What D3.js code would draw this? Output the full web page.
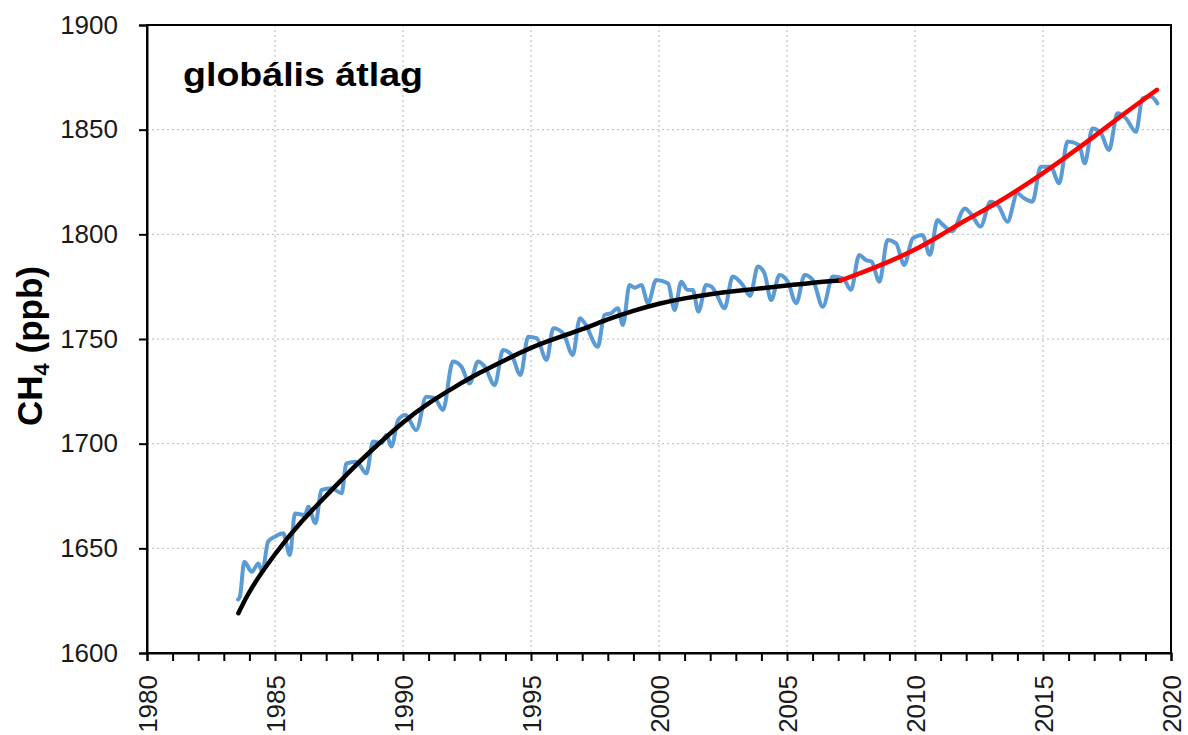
<!DOCTYPE html>
<html>
<head>
<meta charset="utf-8">
<script src="https://cdn.jsdelivr.net/npm/d3@7"></script>
<style>
  body { margin: 0; background: #fff; }
  svg { display: block; }
  .tick text { font-family: "Liberation Sans", Arial, sans-serif; }
</style>
</head>
<body>
<div id="chart"></div>
<script>
// monthly-ish global CH4 : [year, ppb]
var blueYears = [1983.56,1983.63,1983.80,1984.09,1984.35,1984.50,1984.73,1985.0,1985.32,1985.58,1985.78,1986.17,1986.30,1986.58,1986.82,1987.21,1987.60,1987.79,1988.18,1988.57,1988.83,1989.16,1989.35,1989.55,1989.81,1990.10,1990.52,1990.91,1991.24,1991.56,1991.95,1992.28,1992.60,1992.93,1993.19,1993.58,1993.91,1994.24,1994.59,1994.89,1995.22,1995.61,1995.87,1996.26,1996.63,1996.91,1997.10,1997.61,1997.87,1998.13,1998.39,1998.59,1998.85,1999.05,1999.31,1999.57,1999.89,2000.35,2000.61,2000.87,2001.10,2001.32,2001.54,2001.84,2002.05,2002.23,2002.56,2002.88,2003.27,2003.56,2003.86,2004.12,2004.38,2004.71,2005.03,2005.36,2005.69,2006.01,2006.40,2006.79,2007.19,2007.50,2007.82,2008.09,2008.30,2008.61,2008.93,2009.26,2009.58,2009.91,2010.29,2010.58,2010.88,2011.05,2011.45,2011.95,2012.22,2012.56,2012.95,2013.28,2013.61,2014.0,2014.26,2014.59,2014.91,2015.30,2015.63,2015.96,2016.41,2016.63,2016.93,2017.26,2017.58,2017.91,2018.24,2018.63,2018.89,2019.21,2019.47];
var blueVals = [1625.6,1627,1643.6,1638.8,1642.8,1638.8,1653.2,1655.6,1657.2,1646.8,1666.7,1665.9,1669.9,1662.0,1677.9,1678.7,1676.3,1690.6,1691.4,1685.8,1701.0,1700.2,1704.1,1698.6,1711.3,1713.7,1706.5,1722.4,1721.7,1716.1,1739.2,1736.8,1728.8,1739.2,1736.8,1728.0,1744.8,1742.4,1732.8,1751.1,1750.4,1740.0,1755.1,1752.7,1742.4,1759.9,1757.5,1746.3,1761.5,1762.3,1764.7,1756.7,1775.8,1774.5,1775.8,1767.1,1778.2,1776.6,1763.9,1777.4,1773.5,1773.4,1763.1,1775.8,1775,1771.8,1764.7,1779.8,1775.8,1770.6,1784.6,1781.4,1768.6,1780.6,1777.4,1767.1,1780.6,1778.2,1765.4,1779.8,1779.0,1773.5,1790.1,1787.7,1787,1777.4,1797.3,1795.7,1785.4,1798.1,1799.7,1790.1,1806.9,1805,1801.5,1812.4,1809.2,1803.7,1815.6,1813.2,1806.0,1819.6,1817.2,1815.6,1832.3,1832.3,1824.4,1844.3,1842.7,1833.9,1850.6,1848.3,1840.3,1857.8,1855.4,1849.0,1865.0,1865.8,1862.6];

// trend before 2007 (black)
var trendYears = [1983.57,1984,1985,1986,1987,1988,1989,1990,1991,1992,1993,1994,1995,1996,1997,1998,1999,2000,2001,2002,2003,2004,2005,2006,2007.1];
var trendVals = [1619,1630,1647.6,1662.7,1675,1688,1699.4,1710.5,1719.5,1727,1734,1740,1746,1750.5,1754.5,1759.5,1763.5,1767,1769.5,1771.5,1773,1774.2,1775.5,1777,1778];

// trend after 2007 (red)
var trend2Years = [2007.1,2008,2009,2010,2011,2012,2013,2014,2015,2016,2017,2018,2019,2019.45];
var trend2Vals = [1778,1782,1787,1792.5,1799.5,1807,1813.5,1821,1829.2,1837.8,1846.7,1856.2,1865,1869];

var xTicks = [1980,1985,1990,1995,2000,2005,2010,2015,2020];
var yTicks = [1600,1650,1700,1750,1800,1850,1900];

var W = 1188, H = 735;
var margin = {left: 147, top: 25, right: 1171, bottom: 653};

var svg = d3.select("#chart").append("svg")
    .attr("width", W)
    .attr("height", H);

var x = d3.scaleLinear().domain([1980, 2020]).range([margin.left, margin.right]);
var y = d3.scaleLinear().domain([1600, 1900]).range([margin.bottom, margin.top]);

// grid
for (var i = 1; i < xTicks.length - 1; i++) {
    svg.append("line")
        .attr("x1", x(xTicks[i])).attr("x2", x(xTicks[i]))
        .attr("y1", margin.top).attr("y2", margin.bottom)
        .attr("stroke", "#b8b8b8")
        .attr("stroke-dasharray", "2,3");
}
for (var j = 1; j < yTicks.length - 1; j++) {
    svg.append("line")
        .attr("x1", margin.left).attr("x2", margin.right)
        .attr("y1", y(yTicks[j])).attr("y2", y(yTicks[j]))
        .attr("stroke", "#b8b8b8")
        .attr("stroke-dasharray", "2,3");
}

// frame
svg.append("rect")
    .attr("x", margin.left).attr("y", margin.top)
    .attr("width", margin.right - margin.left)
    .attr("height", margin.bottom - margin.top)
    .attr("fill", "none")
    .attr("stroke", "#000")
    .attr("stroke-width", 2);

// axes
var xAxis = d3.axisBottom(x)
    .tickValues(d3.range(1980, 2021, 1))
    .tickSize(8)
    .tickFormat(function(d) { return d % 5 == 0 ? d : ""; });

var gx = svg.append("g")
    .attr("transform", "translate(0," + margin.bottom + ")")
    .call(xAxis);
gx.select(".domain").attr("stroke-width", 2);
gx.selectAll(".tick line").attr("stroke-width", 2);
gx.selectAll(".tick text")
    .attr("font-size", 26)
    .attr("fill", "#1a1a1a")
    .attr("text-anchor", "end")
    .attr("transform", "rotate(-90)")
    .attr("x", -22)
    .attr("y", 0)
    .attr("dy", "0.36em");

var yAxis = d3.axisLeft(y)
    .tickValues(yTicks)
    .tickSize(8)
    .tickFormat(d3.format("d"));

var gy = svg.append("g")
    .attr("transform", "translate(" + margin.left + ",0)")
    .call(yAxis);
gy.select(".domain").attr("stroke-width", 2);
gy.selectAll(".tick line").attr("stroke-width", 2);
gy.selectAll(".tick text")
    .attr("font-size", 26)
    .attr("fill", "#1a1a1a")
    .attr("x", -29);

// lines
var blue = blueYears.map(function(d, k) { return [d, blueVals[k]]; });
var black = trendYears.map(function(d, k) { return [d, trendVals[k]]; });
var red = trend2Years.map(function(d, k) { return [d, trend2Vals[k]]; });

var line = d3.line()
    .x(function(d) { return x(d[0]); })
    .y(function(d) { return y(d[1]); })
    .curve(d3.curveMonotoneX);

svg.append("path")
    .datum(blue)
    .attr("d", line)
    .attr("fill", "none")
    .attr("stroke", "#5b9bd5")
    .attr("stroke-width", 4)
    .attr("stroke-linejoin", "round")
    .attr("stroke-linecap", "round");

var smooth = d3.line()
    .x(function(d) { return x(d[0]); })
    .y(function(d) { return y(d[1]); })
    .curve(d3.curveBasis);

svg.append("path")
    .datum(black)
    .attr("d", smooth)
    .attr("fill", "none")
    .attr("stroke", "#000")
    .attr("stroke-width", 4.5)
    .attr("stroke-linecap", "round");

svg.append("path")
    .datum(red)
    .attr("d", smooth)
    .attr("fill", "none")
    .attr("stroke", "#ff0000")
    .attr("stroke-width", 4.5)
    .attr("stroke-linecap", "round");

// texts
svg.append("text")
    .attr("x", 183)
    .attr("y", 86)
    .attr("font-family", "Liberation Sans, Arial, sans-serif")
    .attr("font-weight", "bold")
    .attr("font-size", 34)
    .attr("textLength", 240)
    .attr("lengthAdjust", "spacingAndGlyphs")
    .text("globális átlag");

var ylab = svg.append("text")
    .attr("transform", "translate(42,346) rotate(-90)")
    .attr("text-anchor", "middle")
    .attr("font-family", "Liberation Sans, Arial, sans-serif")
    .attr("font-weight", "bold")
    .attr("font-size", 35);
ylab.append("tspan").text("CH");
ylab.append("tspan").attr("font-size", 22).attr("dy", 7).text("4");
ylab.append("tspan").attr("dy", -7).text(" (ppb)");
</script>
</body>
</html>
